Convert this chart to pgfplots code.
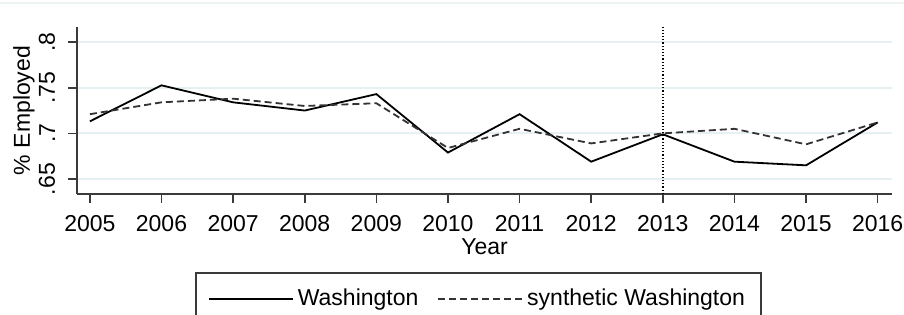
\documentclass[border=0pt]{standalone}
\usepackage{fontspec}
\setmainfont{Liberation Sans}
\usepackage{pgfplots}
\pgfplotsset{compat=1.18}
\definecolor{gridc}{HTML}{E6F0F2}
\definecolor{axc}{HTML}{3A3A3A}
\definecolor{topc}{HTML}{EEF3F4}
\begin{document}
\begin{tikzpicture}
\begin{axis}[name=ax, scale only axis, width=407.5pt, height=83.5pt,
  xmin=2004.82, xmax=2016.2, ymin=0.6336, ymax=0.8165,
  axis x line*=bottom, axis y line*=left,
  axis line style={axc, line width=0.8pt, -},
  font=\fontsize{11.5}{13.5}\selectfont,
  /pgf/number format/assume math mode=true,
  xtick={2005,...,2016},
  xticklabel style={/pgf/number format/1000 sep=, yshift=-2.5pt},
  ytick={0.65,0.7,0.75,0.8},
  yticklabels={.65,.7,.75,.8},
  yticklabel style={rotate=90, anchor=south, inner ysep=6.2pt},
  tick align=outside, major tick length=4.5pt,
  tick style={axc, line width=0.8pt},
  ymajorgrids, grid style={gridc, line width=0.9pt},
  xlabel={Year}, ylabel={\% Employed},
  every axis x label/.style={at={(rel axis cs:0.5,0)}, yshift=-26.5pt, anchor=center},
  every axis y label/.style={at={(rel axis cs:0,0.5)}, xshift=-26.5pt, rotate=90, anchor=center},
  legend columns=2,
  legend style={at={(0.5,-0.467)}, anchor=north, xshift=-3pt, draw=axc, line width=0.8pt,
    inner xsep=6pt, inner ysep=6pt, font=\fontsize{11.5}{13.5}\selectfont,
    /tikz/every even column/.append style={column sep=7.5pt}},
  legend image code/.code={\draw[#1, line width=0.9pt] (0pt,0pt) -- (42pt,0pt);},
  clip=false,
]
\addplot[black, line width=0.9pt] coordinates {
(2005,0.7132) (2006,0.7526) (2007,0.734) (2008,0.725) (2009,0.743) (2010,0.679)
(2011,0.721) (2012,0.669) (2013,0.699) (2014,0.669) (2015,0.665) (2016,0.712)};
\addlegendentry{Washington}
\addplot[black!80, line width=0.9pt, dash pattern=on 3.5pt off 2pt] coordinates {
(2005,0.721) (2006,0.734) (2007,0.738) (2008,0.730) (2009,0.733) (2010,0.684)
(2011,0.705) (2012,0.689) (2013,0.700) (2014,0.705) (2015,0.688) (2016,0.712)};
\addlegendentry{synthetic Washington\hspace{12pt}}
\addplot[black, line width=0.7pt, dash pattern=on 0.6pt off 1pt, forget plot] coordinates {(2013,0.6336) (2013,0.8165)};
\end{axis}
\draw[topc, line width=1.2pt] ([shift={(-38.5pt,12pt)}]ax.north west) -- ([shift={(6pt,12pt)}]ax.north east);
\pgfresetboundingbox
\path ([shift={(-38.5pt,-60.5pt)}]ax.south west) rectangle ([shift={(6pt,13.5pt)}]ax.north east);
\end{tikzpicture}
\end{document}
